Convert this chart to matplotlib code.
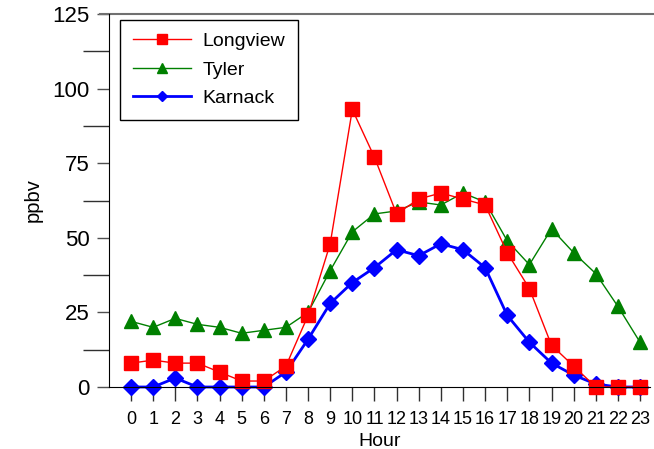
""" Hourly ozone profile, three sites """
import numpy as np
import matplotlib
import matplotlib.pyplot as plt
from matplotlib.ticker import MultipleLocator

matplotlib.use('Agg')
plt.rcParams['font.family'] = ['Liberation Sans', 'DejaVu Sans']

hours = list(range(24))
longview = [8, 9, 8, 8, 5, 2, 2, 7, 24, 48, 93, 77, 58, 63, 65, 63, 61, 45, 33, 14, 7, 0, 0, 0]
tyler = [22, 20, 23, 21, 20, 18, 19, 20, 25, 39, 52, 58, 59, 62, 61, 65, 62, 49, 41, 53, 45, 38, 27, 15]
karnack = [0, 0, 3, 0, 0, 0, 0, 5, 16, 28, 35, 40, 46, 44, 48, 46, 40, 24, 15, 8, 4, 1, 0, 0]

fig = plt.figure(figsize=(6.54, 4.49), dpi=100)
ax = fig.add_axes([109/654, 62/449, 541/654, 373/449])

# drawn back to front: Longview sits on top
lk, = ax.plot(hours, karnack, color='blue', lw=2, marker='D', ms=8.5, clip_on=False, label='Karnack')
lt, = ax.plot(hours, tyler, color='green', lw=1, marker='^', ms=10, clip_on=False, label='Tyler')
ll, = ax.plot(hours, longview, color='red', lw=1, marker='s', ms=10, clip_on=False, label='Longview')

ax.set_xlim(-0.994, 23.45)
ax.set_ylim(0, 125)
ax.set_xticks(hours)
ax.yaxis.set_major_locator(MultipleLocator(25))
ax.yaxis.set_minor_locator(MultipleLocator(12.5))

for s in ['top', 'right']:
    ax.spines[s].set_visible(False)
ax.spines['left'].set_color('black')
ax.spines['bottom'].set_color('black')
# grey line along the top
ax.axhline(125, xmin=-9/541, xmax=545/541, color='#707070', lw=1.5, clip_on=False)

ax.tick_params(axis='y', which='major', length=9, width=1, color='#505050', labelsize=16, pad=5)
ax.tick_params(axis='y', which='minor', length=19, width=1, color='#303030')
ax.tick_params(axis='x', which='major', length=10, width=1, color='#303030', labelsize=13, pad=7)

ax.set_xlabel('Hour', fontsize=14, labelpad=4)
ax.set_ylabel('ppbv', fontsize=14.5, labelpad=7)

leg = ax.legend([ll, lt, lk], ['Longview', 'Tyler', 'Karnack'], loc='upper left',
                bbox_to_anchor=(11/541, 1 - 6/373), fontsize=14, fancybox=False,
                edgecolor='black', framealpha=1, borderaxespad=0, handlelength=3,
                labelspacing=0.55, borderpad=0.65, handletextpad=0.6, markerscale=0.65)
leg.get_frame().set_linewidth(1)

fig.savefig('out.png', dpi=100)
plt.close()
